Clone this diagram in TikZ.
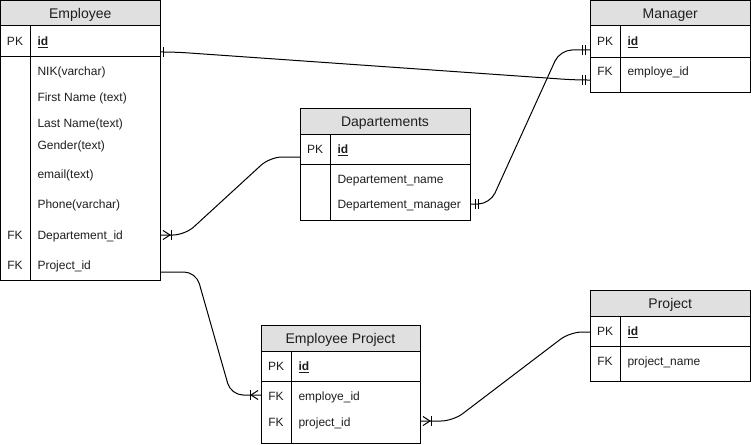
\documentclass[tikz,border=0pt]{standalone}
\usepackage{fontspec}
\setmainfont{Liberation Sans}
\usetikzlibrary{calc}
\definecolor{hdrgray}{HTML}{E0E0E0}
\definecolor{txt}{HTML}{1E1E1E}
\begin{document}
\begin{tikzpicture}[x=1pt,y=-1pt,line width=1pt,
  tbl/.style={draw,anchor=north west,inner sep=0pt,outer sep=0pt},
  hdr/.style={draw,fill=hdrgray,anchor=north west,inner sep=0pt,outer sep=0pt},
  htext/.style={anchor=center,inner sep=0pt,text=txt,font=\fontsize{14}{16}\selectfont,text height=10pt,text depth=0pt},
  key/.style={anchor=center,inner sep=0pt,text=txt,font=\fontsize{12}{14}\selectfont,text height=8.6pt,text depth=0pt},
  fld/.style={anchor=west,inner sep=0pt,text=txt,font=\fontsize{12}{14}\selectfont,text height=8.6pt,text depth=0pt},
  pkf/.style={fld,font=\fontsize{12}{14}\selectfont\bfseries},
  conn/.style={rounded corners=12pt},
]
\useasboundingbox (0,0) rectangle (751,444);

% ---------- Employee ----------
\node[tbl,minimum width=159.5pt,minimum height=279.5pt] (emp) at (0.5,0.5) {};
\node[hdr,minimum width=159.5pt,minimum height=25.5pt] (emph) at (0.5,0.5) {};
\node[htext] at (emph.center) {Employee};
\draw (0.5,56) -- (160,56);
\draw (30,26) -- (30,280);
\node[key] (empk1) at (15,41) {PK};
\node[pkf] (empid) at (37,41) {\underline{id}};
\node[fld] (empf1) at (37,71) {NIK(varchar)};
\node[fld] (empf2) at (37,97) {First Name (text)};
\node[fld] (empf3) at (37,123) {Last Name(text)};
\node[fld] (empf4) at (37,145) {Gender(text)};
\node[fld] (empf5) at (37,174) {email(text)};
\node[fld] (empf6) at (37,204) {Phone(varchar)};
\node[key] (empk2) at (15,235) {FK};
\node[fld] (empf7) at (37,235) {Departement\_id};
\node[key] (empk3) at (15,265) {FK};
\node[fld] (empf8) at (37,265) {Project\_id};

% ---------- Dapartements ----------
\node[tbl,minimum width=170pt,minimum height=112pt] (dep) at (300,108) {};
\node[hdr,minimum width=170pt,minimum height=26pt] (deph) at (300,108) {};
\node[htext] at (deph.center) {Dapartements};
\draw (300,164) -- (470,164);
\draw (330,134) -- (330,220);
\node[key] (depk1) at (315,149) {PK};
\node[pkf] (depid) at (337,149) {\underline{id}};
\node[fld] (depf1) at (337,179) {Departement\_name};
\node[fld] (depf2) at (337,204) {Departement\_manager};

% ---------- Manager ----------
\node[tbl,minimum width=160.5pt,minimum height=91.5pt] (man) at (590,0.5) {};
\node[hdr,minimum width=160.5pt,minimum height=25.5pt] (manh) at (590,0.5) {};
\node[htext] at (manh.center) {Manager};
\draw (590,57) -- (750.5,57);
\draw (620,26) -- (620,92);
\node[key] (mank1) at (605,41) {PK};
\node[pkf] (manid) at (627,41) {\underline{id}};
\node[key] (mank2) at (605,71) {FK};
\node[fld] (manf1) at (627,71) {employe\_id};

% ---------- Project ----------
\node[tbl,minimum width=160.5pt,minimum height=91pt] (prj) at (590,290) {};
\node[hdr,minimum width=160.5pt,minimum height=26pt] (prjh) at (590,290) {};
\node[htext] at (prjh.center) {Project};
\draw (590,346) -- (750.5,346);
\draw (620,316) -- (620,381);
\node[key] (prjk1) at (605,331) {PK};
\node[pkf] (prjid) at (627,331) {\underline{id}};
\node[key] (prjk2) at (605,361) {FK};
\node[fld] (prjf1) at (627,361) {project\_name};

% ---------- Employee Project ----------
\node[tbl,minimum width=159pt,minimum height=118.5pt] (ep) at (261,325) {};
\node[hdr,minimum width=159pt,minimum height=26pt] (eph) at (261,325) {};
\node[htext] at (eph.center) {Employee Project};
\draw (261,381) -- (420,381);
\draw (291,351) -- (291,443.5);
\node[key] (epk1) at (276,366) {PK};
\node[pkf] (epid) at (298,366) {\underline{id}};
\node[key] (epk2) at (276,396) {FK};
\node[fld] (epf1) at (298,396) {employe\_id};
\node[key] (epk3) at (276,422) {FK};
\node[fld] (epf2) at (298,422) {project\_id};

% ---------- connector end points ----------
\coordinate (e1) at (emp.east |- 0,52);
\coordinate (m1) at (man.west |- 0,80);
\coordinate (d2) at (dep.east |- 0,204);
\coordinate (m2) at (man.west |- 0,50);
\coordinate (e3) at (emp.east |- 0,235);
\coordinate (d3) at (dep.west |- 0,157);
\coordinate (e4) at (emp.east |- 0,272);
\coordinate (p4) at (ep.west |- 0,395);
\coordinate (p5) at (ep.east |- 0,421);
\coordinate (j5) at (prj.west |- 0,332);

% ---------- connectors ----------
% Employee.id -- Manager.employe_id
\draw[conn] (e1) -- ($(e1)+(15,0)$) -- ($(m1)+(-15,0)$) -- (m1);
\draw ($(e1)+(3,-5)$) -- ($(e1)+(3,5)$);
\draw ($(m1)+(-5,-5)$) -- ($(m1)+(-5,5)$);
\draw ($(m1)+(-8,-5)$) -- ($(m1)+(-8,5)$);

% Dapartements.manager -- Manager.id
\draw[conn] (d2) -- ($(d2)+(20,0)$) -- ($(m2)+(-30,0)$) -- (m2);
\draw ($(d2)+(5,-5)$) -- ($(d2)+(5,5)$);
\draw ($(d2)+(8,-5)$) -- ($(d2)+(8,5)$);
\draw ($(m2)+(-5,-5)$) -- ($(m2)+(-5,5)$);
\draw ($(m2)+(-8,-5)$) -- ($(m2)+(-8,5)$);

% Employee.Departement_id -- Dapartements.id
\draw[conn] (e3) -- ($(e3)+(25,0)$) -- ($(d3)+(-30,0)$) -- (d3);
\draw ($(e3)+(3,-4.5)$) -- ($(e3)+(10,0)$) -- ($(e3)+(3,4.5)$);
\draw ($(e3)+(11,-5)$) -- ($(e3)+(11,5)$);

% Employee.Project_id -- Employee Project.employe_id
\draw[conn] (e4) -- ($(e4)+(36,0)$) -- ($(p4)+(-30,0)$) -- (p4);
\draw ($(p4)+(-3,-4.5)$) -- ($(p4)+(-10,0)$) -- ($(p4)+(-3,4.5)$);
\draw ($(p4)+(-11,-5)$) -- ($(p4)+(-11,5)$);

% Employee Project.project_id -- Project.id
\draw[conn] (p5) -- ($(p5)+(33,0)$) -- ($(j5)+(-20,0)$) -- (j5);
\draw ($(p5)+(3,-4.5)$) -- ($(p5)+(10,0)$) -- ($(p5)+(3,4.5)$);
\draw ($(p5)+(11,-5)$) -- ($(p5)+(11,5)$);
\end{tikzpicture}
\end{document}
